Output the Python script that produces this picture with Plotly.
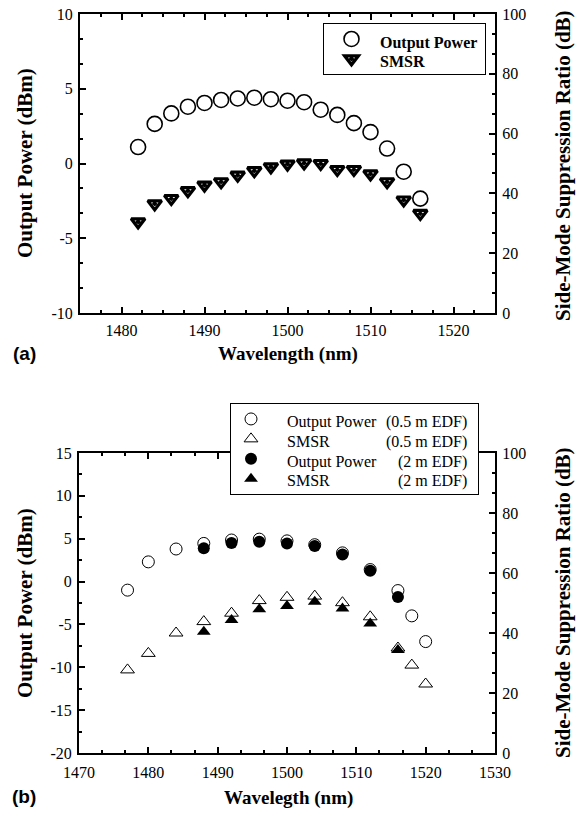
import plotly.graph_objects as go

# ---------------- data ----------------
# panel (a)
wl_a = [1482, 1484, 1486, 1488, 1490, 1492, 1494, 1496, 1498, 1500,
        1502, 1504, 1506, 1508, 1510, 1512, 1514, 1516]
power_a = [1.1, 2.65, 3.35, 3.8, 4.05, 4.25, 4.35, 4.4, 4.3, 4.2,
           4.1, 3.6, 3.25, 2.7, 2.1, 1.0, -0.55, -2.35]
smsr_a = [30.5, 36.5, 38.3, 40.9, 42.8, 43.9, 46.1, 47.6, 48.9, 49.8,
          50.2, 50.0, 48.0, 48.0, 46.5, 43.9, 37.8, 33.3]

# panel (b)
wl_b05 = [1477, 1480, 1484, 1488, 1492, 1496, 1500, 1504, 1508, 1512, 1516, 1518, 1520]
power_b05 = [-1.0, 2.3, 3.8, 4.45, 4.85, 4.95, 4.75, 4.3, 3.35, 1.4, -1.05, -4.0, -7.0]
smsr_b05 = [27.7, 33.2, 40.0, 43.8, 46.6, 50.8, 51.9, 52.3, 50.1, 45.4, 35.0, 29.3, 23.0]

wl_b2 = [1488, 1492, 1496, 1500, 1504, 1508, 1512, 1516]
power_b2 = [3.9, 4.5, 4.65, 4.45, 4.15, 3.15, 1.25, -1.8]
smsr_b2 = [40.4, 44.3, 47.9, 49.0, 50.4, 48.2, 43.2, 34.3]

# tick labels
xt_a = [1480, 1490, 1500, 1510, 1520]
yt_a = [-10, -5, 0, 5, 10]
xt_b = [1470, 1480, 1490, 1500, 1510, 1520, 1530]
yt_b = [-20, -15, -10, -5, 0, 5, 10, 15]
y2t = [0, 20, 40, 60, 80, 100]

legend_a_names = ["Output Power", "SMSR"]
legend_b_names = ["Output Power", "SMSR", "Output Power", "SMSR"]
legend_b_notes = ["(0.5 m EDF)", "(0.5 m EDF)", "(2 m EDF)", "(2 m EDF)"]

# ---------------- figure ----------------
W, H = 576, 819
SERIF = "Liberation Serif"
SANS = "Liberation Sans"
NB = "\u00a0"


def px(x):
    return x / W


def py(y):
    return 1 - y / H


def labels(vals):
    return [str(v) for v in vals]  # plain hyphen-minus like the original


fig = go.Figure()

# legend entries carry only the symbol; the visible legend text is drawn as annotations
pad_a = NB * 31
pad_b = NB * 62

# panel (a)
fig.add_trace(go.Scatter(
    x=wl_a, y=power_a, mode="markers", name=pad_a,
    xaxis="x", yaxis="y", legend="legend",
    marker=dict(symbol="circle-open", size=15, color="black", line=dict(width=1.6)),
))
fig.add_trace(go.Scatter(
    x=wl_a, y=smsr_a, mode="markers", name=NB,
    xaxis="x", yaxis="y2", legend="legend",
    marker=dict(symbol="triangle-down-open-dot", size=12, color="black", line=dict(width=3.2)),
))

# panel (b)
fig.add_trace(go.Scatter(
    x=wl_b05, y=power_b05, mode="markers", name=pad_b,
    xaxis="x2", yaxis="y3", legend="legend2",
    marker=dict(symbol="circle-open", size=12, color="black", line=dict(width=1)),
))
fig.add_trace(go.Scatter(
    x=wl_b05, y=smsr_b05, mode="markers", name=NB,
    xaxis="x2", yaxis="y4", legend="legend2",
    marker=dict(symbol="triangle-up-open", size=12, color="black", line=dict(width=1)),
))
fig.add_trace(go.Scatter(
    x=wl_b2, y=power_b2, mode="markers", name=NB * 2,
    xaxis="x2", yaxis="y3", legend="legend2",
    marker=dict(symbol="circle", size=12, color="black", line=dict(width=0)),
))
fig.add_trace(go.Scatter(
    x=wl_b2, y=smsr_b2, mode="markers", name=NB * 3,
    xaxis="x2", yaxis="y4", legend="legend2",
    marker=dict(symbol="triangle-up", size=12, color="black", line=dict(width=0)),
))

tickfont = dict(family=SERIF, size=16, color="black")
common = dict(showline=True, linecolor="black", linewidth=2, ticks="inside",
              tickcolor="black", tickwidth=2, ticklen=6, showgrid=False,
              zeroline=False, tickfont=tickfont, automargin=False,
              tickmode="array")


def minor(dt):
    return dict(dtick=dt, ticks="inside", ticklen=3, tickwidth=1.5, tickcolor="black",
                showgrid=False)


dom_a_x = [px(80), px(495)]
dom_a_y = [py(313), py(14)]
dom_b_x = [px(79), px(495)]
dom_b_y = [py(753), py(453)]

fig.update_layout(
    template="none",
    width=W, height=H, margin=dict(l=0, r=0, t=0, b=0, pad=0),
    paper_bgcolor="white", plot_bgcolor="white",
    xaxis=dict(domain=dom_a_x, anchor="y", range=[1475, 1525], mirror="ticks",
               tickvals=xt_a, ticktext=labels(xt_a), ticklabelstandoff=2,
               minor=minor(2.5), **common),
    yaxis=dict(domain=dom_a_y, anchor="x", range=[-10, 10],
               tickvals=yt_a, ticktext=labels(yt_a), ticklabelstandoff=2,
               minor=minor(5 / 3), **common),
    yaxis2=dict(overlaying="y", side="right", anchor="x", range=[0, 100],
                tickvals=y2t, ticktext=labels(y2t), ticklabelstandoff=2,
                minor=minor(20 / 3), **common),
    xaxis2=dict(domain=dom_b_x, anchor="y3", range=[1470, 1530], mirror="ticks",
                tickvals=xt_b, ticktext=labels(xt_b), ticklabelstandoff=4,
                minor=minor(10 / 3), **common),
    yaxis3=dict(domain=dom_b_y, anchor="x2", range=[-20, 15],
                tickvals=yt_b, ticktext=labels(yt_b), ticklabelstandoff=2,
                minor=minor(2.5), **common),
    yaxis4=dict(overlaying="y3", side="right", anchor="x2", range=[0, 100],
                tickvals=y2t, ticktext=labels(y2t), ticklabelstandoff=2,
                minor=minor(20 / 3), **common),
    legend=dict(x=px(323), y=py(23), xanchor="left", yanchor="top",
                bgcolor="white", bordercolor="black", borderwidth=1,
                font=dict(family=SERIF, size=13, color="black"),
                itemwidth=45, tracegroupgap=0),
    legend2=dict(x=px(230), y=py(403), xanchor="left", yanchor="top",
                 bgcolor="white", bordercolor="black", borderwidth=1,
                 font=dict(family=SERIF, size=13, color="black"),
                 itemwidth=30, tracegroupgap=0),
)

ann = []


def text(t, x, y, angle=0, size=20, family=SERIF, bold=True, xanchor="center"):
    ann.append(dict(text=f"<b>{t}</b>" if bold else t, x=px(x), y=py(y),
                    xref="paper", yref="paper", showarrow=False, textangle=angle,
                    xanchor=xanchor, yanchor="middle",
                    font=dict(family=family, size=size, color="black")))


text("Output Power (dBm)", 25, 163, angle=-90, size=21)
text("Side-Mode Suppression Ratio (dB)", 563, 166, angle=-90, size=21)
text("Wavelength (nm)", 288, 354, size=19)
text("(a)", 24, 353, size=19, family=SANS)

text("Output Power (dBm)", 25, 603, angle=-90, size=21)
text("Side-Mode Suppression Ratio (dB)", 563, 603, angle=-90, size=21)
text("Wavelegth (nm)", 288, 798, size=19)
text("(b)", 24, 796, size=19, family=SANS)

# legend text (a)
rows_a = [43, 62]
for name, yy in zip(legend_a_names, rows_a):
    text(name, 378, yy, size=16, xanchor="left")

# legend text (b)
rows_b = [421.7, 441.7, 461.7, 480.7]
for name, note, yy in zip(legend_b_names, legend_b_notes, rows_b):
    text(name, 285, yy, size=16, bold=False, xanchor="left")
    text(note, 469, yy, size=16, bold=False, xanchor="right")

fig.update_layout(annotations=ann)

fig.write_html("out.html")
